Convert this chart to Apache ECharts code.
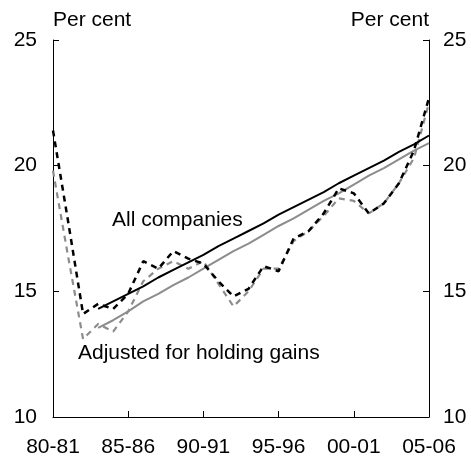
<!DOCTYPE html>
<html>
<head>
<meta charset="utf-8">
<script src="https://cdn.jsdelivr.net/npm/echarts@6/dist/echarts.min.js"></script>
<style>
html,body{margin:0;padding:0;background:#fff;}
#chart{width:471px;height:460px;}
</style>
</head>
<body>
<div id="chart"></div>
<script>
var categories = ['80-81','81-82','82-83','83-84','84-85','85-86','86-87','87-88','88-89','89-90','90-91','91-92','92-93','93-94','94-95','95-96','96-97','97-98','98-99','99-00','00-01','01-02','02-03','03-04','04-05','05-06'];
var allCompanies = [21.4, 17.8, 14.1, 14.5, 14.3, 14.9, 16.2, 15.9, 16.6, 16.3, 16.1, 15.4, 14.8, 15.1, 16.0, 15.8, 17.1, 17.4, 18.1, 19.1, 18.9, 18.1, 18.5, 19.3, 20.6, 22.7];
var adjusted = [19.8, 16.4, 13.1, 13.7, 13.4, 14.2, 15.4, 15.9, 16.2, 15.9, 16.2, 15.3, 14.4, 15.0, 15.9, 15.9, 17.0, 17.4, 18.0, 18.7, 18.6, 18.1, 18.5, 19.3, 20.3, 22.5];
var trendAll = [null, null, null, 14.3, 14.6, 14.9, 15.2, 15.55, 15.85, 16.15, 16.45, 16.8, 17.1, 17.4, 17.7, 18.05, 18.35, 18.65, 18.95, 19.3, 19.6, 19.9, 20.2, 20.55, 20.85, 21.2];
var trendAdj = [null, null, null, 13.55, 13.85, 14.2, 14.6, 14.9, 15.25, 15.55, 15.9, 16.25, 16.6, 16.9, 17.25, 17.6, 17.9, 18.25, 18.6, 18.9, 19.25, 19.6, 19.9, 20.25, 20.6, 20.9];
var yTicks = [10, 15, 20, 25];

var FONT = 'Liberation Sans, Arial, sans-serif';
var FS = 21;
var chart = echarts.init(document.getElementById('chart'), null, {renderer: 'canvas'});
var yBase = {
  type: 'value', min: yTicks[0], max: yTicks[yTicks.length - 1], interval: 5,
  splitLine: {show: false},
  axisLine: {show: true, lineStyle: {color: '#000', width: 1}},
  axisTick: {show: true, inside: true, length: 6, lineStyle: {color: '#000'}},
  nameTextStyle: {fontFamily: FONT, fontSize: FS, color: '#000', verticalAlign: 'middle'},
  nameGap: 20,
  nameLocation: 'end'
};
var option = {
  animation: false,
  backgroundColor: '#fff',
  grid: {left: 53, right: 42, top: 40, bottom: 43, containLabel: false},
  xAxis: {
    type: 'category', data: categories, boundaryGap: false,
    axisLine: {lineStyle: {color: '#000', width: 1}},
    axisTick: {show: true, inside: true, length: 6, interval: function (i) { return i % 5 === 0; }, lineStyle: {color: '#000'}},
    axisLabel: {interval: function (i) { return i % 5 === 0; }, fontFamily: FONT, fontSize: FS, color: '#000', margin: 20},
    splitLine: {show: false}
  },
  yAxis: [
    Object.assign({}, yBase, {position: 'left', name: 'Per cent',
      nameTextStyle: Object.assign({}, yBase.nameTextStyle, {align: 'left'}),
      axisLabel: {fontFamily: FONT, fontSize: FS, color: '#000', margin: 16}}),
    Object.assign({}, yBase, {position: 'right', name: 'Per cent',
      nameTextStyle: Object.assign({}, yBase.nameTextStyle, {align: 'right'}),
      axisLabel: {fontFamily: FONT, fontSize: FS, color: '#000', margin: 14}})
  ],
  series: [
    {type: 'line', name: 'Adjusted for holding gains', data: adjusted, symbol: 'none', z: 2,
      lineStyle: {color: '#8c8c8c', width: 2.2, type: [6, 5]}},
    {type: 'line', name: 'Adjusted trend', data: trendAdj, symbol: 'none', z: 3,
      lineStyle: {color: '#8c8c8c', width: 2}},
    {type: 'line', name: 'All companies', data: allCompanies, symbol: 'none', z: 4,
      lineStyle: {color: '#000', width: 2.5, type: [6, 5]}},
    {type: 'line', name: 'All companies trend', data: trendAll, symbol: 'none', z: 5,
      lineStyle: {color: '#000', width: 2}}
  ],
  graphic: [
    {type: 'text', x: 112, y: 220, style: {text: 'All companies', font: FS + 'px ' + FONT, fill: '#000', verticalAlign: 'middle'}},
    {type: 'text', x: 78, y: 353, style: {text: 'Adjusted for holding gains', font: FS + 'px ' + FONT, fill: '#000', verticalAlign: 'middle'}}
  ]
};
chart.setOption(option);
</script>
</body>
</html>
